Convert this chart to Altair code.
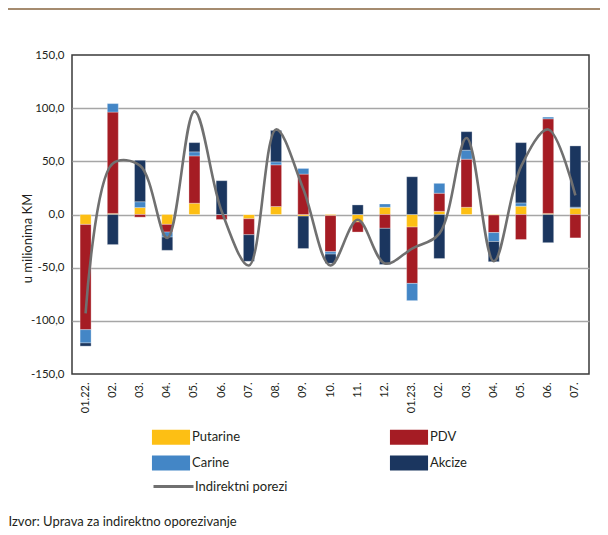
import altair as alt
import pandas as pd

months = ["01.22.", "02.", "03.", "04.", "05.", "06.", "07.", "08.", "09.", "10.", "11.", "12.",
          "01.23.", "02.", "03.", "04.", "05.", "06.", "07."]
series = ["Putarine", "PDV", "Carine", "Akcize"]
legend_order = ["Putarine", "Carine", "PDV", "Akcize"]
colors = {"Putarine": "#FDBF14", "PDV": "#A51C24", "Carine": "#4386C6", "Akcize": "#1B365F"}

putarine = [-9.3, 1.0, 6.5, -9.3, 10.6, 0.0, -4.0, 7.5, -1.5, -1.0, -7.0, 6.8, -11.8, 3.0, 6.8, -0.5, 7.8, 1.0, 5.9]
pdv = [-99.0, 95.3, -2.5, -7.2, 44.5, -4.7, -15.0, 39.2, 38.0, -34.0, -9.5, -13.0, -53.0, 17.0, 45.2, -16.5, -23.5, 89.0, -22.0]
carine = [-12.5, 8.0, 5.5, -4.7, 3.8, 0.0, 0.0, 2.8, 5.3, -2.2, 0.0, 3.1, -16.2, 9.3, 8.5, -8.4, 3.1, 1.6, 1.0]
akcize = [-3.0, -28.3, 39.0, -12.5, 8.7, 31.8, -25.0, 29.6, -30.5, -8.7, 9.0, -34.0, 35.5, -41.4, 17.4, -19.0, 56.7, -26.5, 57.6]
indirektni = [-93, 48, 46, -22, 97, 3, -48, 80, 24, -48, -5, -46, -32, -18, 72, -44, 45, 80, 18]

source_text = "Izvor: Uprava za indirektno oporezivanje"
y_title = "u milionima KM"
line_name = "Indirektni porezi"

rows = []
for k, (name, vals) in enumerate(zip(series, [putarine, pdv, carine, akcize])):
    for i, v in enumerate(vals):
        rows.append({"idx": i, "serija": name, "ord": k, "v": v})
bars_df = pd.DataFrame(rows)
line_df = pd.DataFrame({"idx": list(range(len(months))), "v": indirektni, "serija": line_name})

label_expr = "[" + ",".join("'%s'" % m for m in months) + "][datum.value]"
y_label_expr = "(datum.value < 0 ? '-' : '') + replace(format(abs(datum.value), '.1f'), '.', ',')"

FONT = "Lato"
TXT = "#231F20"

x_enc = alt.X(
    "idx:O",
    scale=alt.Scale(paddingInner=0.6, paddingOuter=0.3),
    axis=alt.Axis(
        labelExpr=label_expr, labelAngle=270, labelPadding=8, labelFontSize=11,
        labelFont=FONT, labelColor=TXT, ticks=False, domain=False, grid=False,
        title=source_text, titleX=-64, titleY=147, titleAlign="left",
        titleBaseline="middle", titleFontSize=13, titleFontWeight="normal",
        titleFont=FONT, titleColor=TXT,
    ),
)
y_scale = alt.Scale(domain=[-150, 150], nice=False, zero=False)
y_axis = alt.Axis(
    values=[-150, -100, -50, 0, 50, 100, 150], labelExpr=y_label_expr,
    labelFontSize=11.5, labelFont=FONT, labelColor=TXT, labelPadding=8,
    ticks=False, domain=False, grid=True, gridColor="#A6A6A6", gridWidth=1.3,
    gridOpacity=alt.condition("abs(datum.value) >= 150", alt.value(0), alt.value(1)),
    title=y_title, titleAngle=270, titleX=-45, titleY=183, titleAlign="center",
    titleBaseline="middle", titleFontSize=13, titleFontWeight="normal",
    titleFont=FONT, titleColor=TXT,
)

bars = alt.Chart(bars_df).mark_bar(size=11, stroke="white", strokeWidth=0.5, strokeOpacity=0.6).encode(
    x=x_enc,
    y=alt.Y("v:Q", stack="zero", scale=y_scale, axis=y_axis),
    color=alt.Color(
        "serija:N",
        scale=alt.Scale(domain=legend_order, range=[colors[s] for s in legend_order]),
        legend=alt.Legend(
            orient="none", legendX=84, legendY=367, columns=2, columnPadding=148,
            rowPadding=3, symbolType="M-1.27,-0.5H1.27V0.5H-1.27Z", symbolSize=900,
            symbolStrokeWidth=0, symbolOpacity=1, labelFontSize=13, labelFont=FONT,
            labelColor=TXT, labelOffset=6, title=None, padding=0,
        ),
    ),
    order=alt.Order("ord:Q"),
)

line = alt.Chart(line_df).mark_line(interpolate="catmull-rom", strokeWidth=2.6).encode(
    x=alt.X("idx:O"),
    y=alt.Y("v:Q"),
    stroke=alt.Stroke(
        "serija:N",
        scale=alt.Scale(domain=[line_name], range=["#707070"]),
        legend=alt.Legend(
            orient="none", legendX=80, legendY=410, symbolType="stroke", symbolSize=1600,
            symbolStrokeWidth=3, labelFontSize=13, labelFont=FONT, labelColor=TXT,
            labelOffset=0, title=None, padding=0,
        ),
    ),
)

band = alt.Chart(pd.DataFrame({"a": [0]})).mark_rect(color="#A58B6F").encode(
    x=alt.value(-64), x2=alt.value(528), y=alt.value(-47), y2=alt.value(-45)
)

chart = alt.layer(band, bars, line).properties(
    width=517, height=319,
    autosize=alt.AutoSizeParams(type="none"),
    padding={"left": 64, "top": 47, "right": 11, "bottom": 155},
    background="white",
).configure_view(stroke="#3A3A3A", strokeWidth=1.5).resolve_scale(color="independent")

chart.save("out.html", embed_options={"renderer": "svg", "actions": False})
